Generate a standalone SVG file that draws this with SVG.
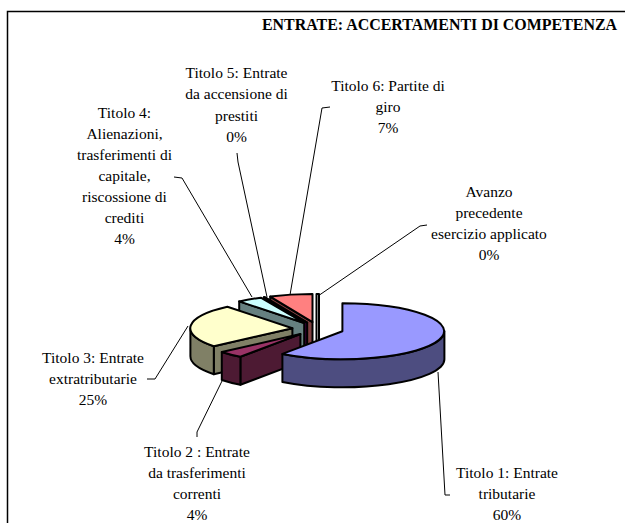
<svg xmlns="http://www.w3.org/2000/svg" width="625" height="523" viewBox="0 0 625 523">
<style>
.lbl{font-family:"Liberation Serif","Times New Roman",serif;font-size:15.5px;fill:#000;text-anchor:middle}
.ttl{font-family:"Liberation Serif","Times New Roman",serif;font-size:16px;font-weight:bold;fill:#000}
.s{stroke:#000;stroke-width:2;stroke-linejoin:round}
.ld{fill:none;stroke:#000;stroke-width:1}
</style>
<rect width="625" height="523" fill="#fff"/>
<path d="M7.5,523 V11.5 H625" fill="none" stroke="#000" stroke-width="1.5"/>
<text class="ttl" x="262" y="30" textLength="355" lengthAdjust="spacingAndGlyphs">ENTRATE: ACCERTAMENTI DI COMPETENZA</text>

<g id="slice-avanzo">
<rect class="s" x="316.5" y="294" width="2.5" height="56" fill="#fff"/>
</g>
<g id="slice-titolo6">
<path class="s" fill="#804040" d="M312.5,322.1 L270.2,296.6 L270.2,324.6 L312.5,350.1 Z"/>
<path class="s" fill="#ff8080" d="M312.5,322.1 L270.2,296.6 A102,28 0 0,1 312.5,294.1 Z"/>
</g>
<g id="slice-titolo5">
<path class="s" fill="#330033" d="M307.2,322.6 L263.8,297.3 L263.8,325.3 L307.2,350.6 Z"/>
<path class="s" fill="#660066" d="M307.2,322.6 L263.8,297.3 A102,28 0 0,1 264.9,297.1 Z"/>
</g>
<g id="slice-titolo4">
<path class="s" fill="#668080" d="M304.2,323 L239.2,301.4 L239.2,329.4 L304.2,351 Z"/>
<path class="s" fill="#ccffff" d="M304.2,323 L239.2,301.4 A102,28 0 0,1 260.8,297.7 Z"/>
</g>
<g id="slice-titolo3">
<path class="s" fill="#808066" d="M292.4,328.3 L213.8,346.2 L213.8,374.2 L292.4,356.3 Z"/>
<path class="s" fill="#808066" d="M213.8,346.2 A102,28 0 0,1 190.4,328.3 L190.4,356.3 A102,28 0 0,0 213.8,374.2 Z"/>
<path class="s" fill="#ffffcc" d="M292.4,328.3 L213.8,346.2 A102,28 0 0,1 227.4,306.7 Z"/>
</g>
<g id="slice-titolo2">
<path class="s" fill="#4d1a33" d="M300.4,334.1 L240.4,356.8 L240.4,384.8 L300.4,362.1 Z"/>
<path class="s" fill="#4d1a33" d="M240.4,356.8 A102,28 0 0,1 221.8,352 L221.8,380 A102,28 0 0,0 240.4,384.8 Z"/>
<path class="s" fill="#993366" d="M300.4,334.1 L240.4,356.8 A102,28 0 0,1 221.8,352 Z"/>
</g>
<g id="slice-titolo1">
<path class="s" fill="#4d4d80" d="M444.4,331.2 A102,28 0 0,1 282.4,353.9 L282.4,381.9 A102,28 0 0,0 444.4,359.2 Z"/>
<path class="s" fill="#9999ff" d="M342.4,331.2 L342.4,303.2 A102,28 0 1,1 282.4,353.9 Z"/>
</g>

<g id="connectors">
<path class="ld" d="M438,372 L445,495 L450,495"/>
<path class="ld" d="M222,381 L197,432 L197,437"/>
<path class="ld" d="M188,326 L155,379 L147,379"/>
<path class="ld" d="M174,177 L182,178 L252,297"/>
<path class="ld" d="M237,153 L238,162 L267,297"/>
<path class="ld" d="M330,107 L322,108 L290,295"/>
<path class="ld" d="M427,225 L420,226 L318,296"/>
</g>

<g id="label-titolo1"><text class="lbl" x="507" y="478">Titolo 1: Entrate<tspan x="507" dy="21">tributarie</tspan><tspan x="507" dy="21">60%</tspan></text></g>
<g id="label-titolo2"><text class="lbl" x="197" y="457">Titolo 2 : Entrate<tspan x="197" dy="21">da trasferimenti</tspan><tspan x="197" dy="21">correnti</tspan><tspan x="197" dy="21">4%</tspan></text></g>
<g id="label-titolo3"><text class="lbl" x="93" y="363">Titolo 3: Entrate<tspan x="93" dy="21">extratributarie</tspan><tspan x="93" dy="21">25%</tspan></text></g>
<g id="label-titolo4"><text class="lbl" x="124.5" y="118">Titolo 4:<tspan x="124.5" dy="21">Alienazioni,</tspan><tspan x="124.5" dy="21">trasferimenti di</tspan><tspan x="124.5" dy="21">capitale,</tspan><tspan x="124.5" dy="21">riscossione di</tspan><tspan x="124.5" dy="21">crediti</tspan><tspan x="124.5" dy="21">4%</tspan></text></g>
<g id="label-titolo5"><text class="lbl" x="236.5" y="78">Titolo 5: Entrate<tspan x="236.5" dy="21.3">da accensione di</tspan><tspan x="236.5" dy="21.3">prestiti</tspan><tspan x="236.5" dy="21.3">0%</tspan></text></g>
<g id="label-titolo6"><text class="lbl" x="388" y="91">Titolo 6: Partite di<tspan x="388" dy="21">giro</tspan><tspan x="388" dy="21">7%</tspan></text></g>
<g id="label-avanzo"><text class="lbl" x="489" y="197">Avanzo<tspan x="489" dy="21">precedente</tspan><tspan x="489" dy="21">esercizio applicato</tspan><tspan x="489" dy="21">0%</tspan></text></g>
</svg>
